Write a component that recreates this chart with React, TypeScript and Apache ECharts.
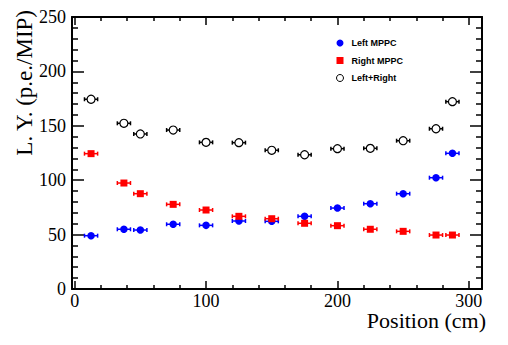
import React, { useEffect, useRef } from "react";
import * as echarts from "echarts";

const positions = [12.5, 37.5, 50, 75, 100, 125, 150, 175, 200, 225, 250, 275, 287.5];
const positionErrors = [5, 5, 5, 5, 5, 5, 5, 5, 5, 5, 5, 5, 5];
const leftMPPC = [49, 54.9, 54.2, 59.5, 58.5, 62.5, 62.2, 66.8, 74.4, 78.4, 87.6, 102.3, 124.7];
const rightMPPC = [124.4, 97.4, 87.6, 77.8, 72.6, 66.8, 64.6, 60.4, 58.2, 54.9, 53, 49.6, 49.6];
const leftPlusRight = [174.4, 152.3, 142.5, 146.1, 134.8, 134.5, 127.5, 123.4, 129, 129.3, 136.3, 147.3, 172.2];
const xTicks = [0, 100, 200, 300];
const seriesNames = ["Left MPPC", "Right MPPC", "Left+Right"];
const xTitle = "Position (cm)";
const yTitle = "L. Y. (p.e./MIP)";

const SERIF = "Liberation Serif, Times New Roman, serif";
const SANS = "Liberation Sans, Arial, sans-serif";

const tickLine = { color: "#000", width: 1.5 };

function makeX(position: "bottom" | "top", showLabels: boolean) {
  return {
    type: "value",
    position,
    min: -2,
    max: 310,
    splitNumber: 3,
    axisLine: { show: true, onZero: false, lineStyle: { color: "#000", width: 2 } },
    axisTick: { show: true, inside: true, length: 8, customValues: xTicks, lineStyle: tickLine },
    minorTick: { show: true, splitNumber: 5, length: 4, lineStyle: tickLine },
    axisLabel: {
      show: showLabels,
      customValues: xTicks,
      margin: 5,
      color: "#000",
      fontSize: 18,
      lineHeight: 14,
      fontFamily: SERIF,
    },
    splitLine: { show: false },
    minorSplitLine: { show: false },
  };
}

function makeY(position: "left" | "right", showLabels: boolean) {
  return {
    type: "value",
    position,
    min: 0,
    max: 250,
    interval: 50,
    axisLine: { show: true, onZero: false, lineStyle: { color: "#000", width: 2 } },
    axisTick: { show: true, inside: true, length: 12, lineStyle: tickLine },
    minorTick: { show: true, splitNumber: 5, length: 6, lineStyle: tickLine },
    axisLabel: {
      show: showLabels,
      margin: 6,
      color: "#000",
      fontSize: 18,
      fontFamily: SERIF,
    },
    splitLine: { show: false },
  };
}

function errorSeries(ys: number[], color: string, z: number) {
  return {
    type: "custom",
    name: "err-" + color,
    silent: true,
    z,
    data: positions.map((x, i) => [x, ys[i], positionErrors[i]]),
    encode: { x: 0, y: 1 },
    renderItem: (_params: any, api: any) => {
      const x = api.value(0);
      const y = api.value(1);
      const e = api.value(2);
      const a = api.coord([x - e, y]);
      const b = api.coord([x + e, y]);
      const style = { stroke: color, lineWidth: 1.5 };
      return {
        type: "group",
        children: [
          { type: "line", shape: { x1: a[0], y1: a[1], x2: b[0], y2: b[1] }, style },
          { type: "line", shape: { x1: a[0], y1: a[1] - 2, x2: a[0], y2: a[1] + 2 }, style },
          { type: "line", shape: { x1: b[0], y1: b[1] - 2, x2: b[0], y2: b[1] + 2 }, style },
        ],
      };
    },
  };
}

export default function App() {
  const ref = useRef<HTMLDivElement>(null);
  useEffect(() => {
    if (!ref.current) return;
    const chart = echarts.init(ref.current, null, { renderer: "svg" });
    chart.setOption({
      animation: false,
      backgroundColor: "#fff",
      grid: { left: 72, right: 26, top: 17, bottom: 56, containLabel: false },
      xAxis: [makeX("bottom", true), makeX("top", false)],
      yAxis: [makeY("left", true), makeY("right", false)],
      legend: {
        orient: "vertical",
        left: 336,
        top: 38,
        padding: 0,
        itemWidth: 7,
        itemHeight: 7,
        itemGap: 7.5,
        textStyle: {
          fontSize: 9,
          fontWeight: "bold",
          fontFamily: SANS,
          color: "#000",
          lineHeight: 10,
          padding: [0, 0, 0, 3],
        },
        data: [
          { name: seriesNames[0], icon: "circle" },
          { name: seriesNames[1], icon: "rect" },
          { name: seriesNames[2], icon: "circle", itemStyle: { color: "#fff", borderColor: "#000", borderWidth: 1 } },
        ],
      },
      graphic: [
        {
          type: "text",
          x: 24,
          y: 10,
          rotation: Math.PI / 2,
          style: {
            text: yTitle,
            font: `23px ${SERIF}`,
            fill: "#000",
            align: "right",
            verticalAlign: "middle",
          },
        },
        {
          type: "text",
          x: 486,
          y: 320.5,
          style: {
            text: xTitle,
            font: `22px ${SERIF}`,
            lineHeight: 18,
            fill: "#000",
            align: "right",
            verticalAlign: "middle",
          },
        },
      ],
      series: [
        errorSeries(leftMPPC, "#0000ff", 2),
        {
          type: "scatter",
          name: seriesNames[0],
          z: 3,
          symbol: "circle",
          symbolSize: 7.5,
          itemStyle: { color: "#0000ff", opacity: 1 },
          data: positions.map((x, i) => [x, leftMPPC[i]]),
        },
        errorSeries(rightMPPC, "#ff0000", 4),
        {
          type: "scatter",
          name: seriesNames[1],
          z: 5,
          symbol: "rect",
          symbolSize: 7,
          itemStyle: { color: "#ff0000", opacity: 1 },
          data: positions.map((x, i) => [x, rightMPPC[i]]),
        },
        errorSeries(leftPlusRight, "#000000", 6),
        {
          type: "scatter",
          name: seriesNames[2],
          z: 7,
          symbol: "circle",
          symbolSize: 8,
          itemStyle: { color: "#fff", borderColor: "#000", borderWidth: 1.2, opacity: 1 },
          data: positions.map((x, i) => [x, leftPlusRight[i]]),
        },
      ],
    });
    return () => chart.dispose();
  }, []);
  return (
    <div
      ref={ref}
      style={{ position: "fixed", left: 0, top: 0, width: 508, height: 345, background: "#fff" }}
    />
  );
}
